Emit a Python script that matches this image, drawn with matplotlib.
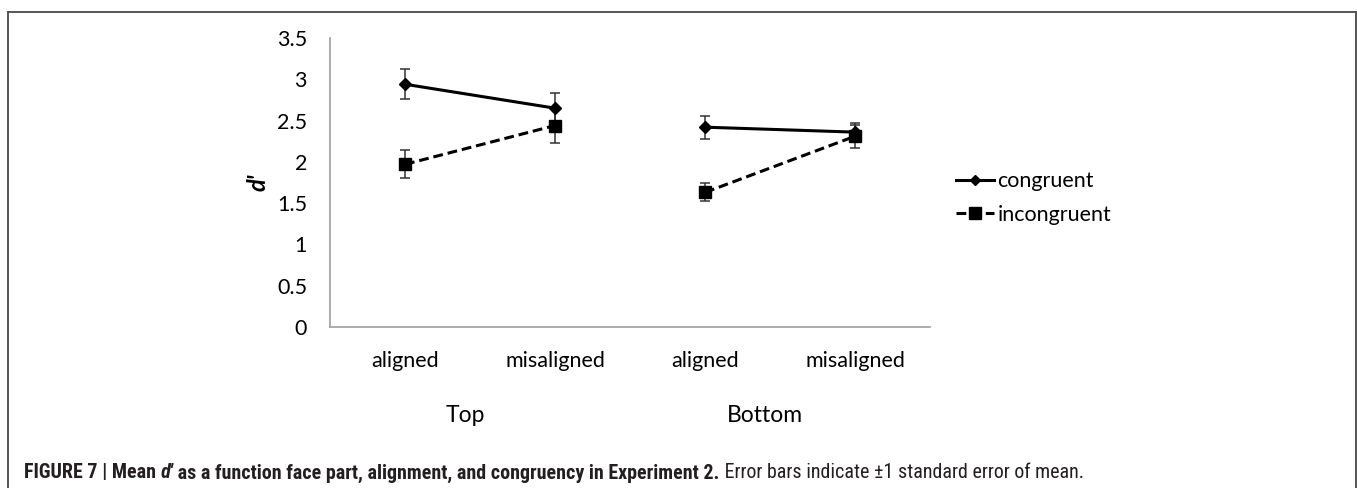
import matplotlib
matplotlib.use("Agg")
import matplotlib.pyplot as plt
from matplotlib import font_manager
from matplotlib.lines import Line2D

# ---- data ----
conditions = ["aligned", "misaligned", "aligned", "misaligned"]
groups = ["Top", "Bottom"]
congruent = [2.94, 2.65, 2.42, 2.36]
congruent_se = [0.18, 0.18, 0.14, 0.11]
incongruent = [1.97, 2.44, 1.63, 2.31]
incongruent_se = [0.17, 0.21, 0.11, 0.14]
series_names = ["congruent", "incongruent"]
yticks = [0, 0.5, 1, 1.5, 2, 2.5, 3, 3.5]


def has_font(name):
    try:
        font_manager.findfont(font_manager.FontProperties(family=name), fallback_to_default=False)
        return True
    except Exception:
        return False

chart_font = "Lato" if has_font("Lato") else "DejaVu Sans"

# choose a condensed sans face (with a static bold) for the caption
ttf = font_manager.fontManager.ttflist
def static_bold(fam):
    return any(f.name == fam and str(f.weight) in ("bold", "700") and "[" not in f.fname for f in ttf)
pref = ["Liberation Sans Narrow", "Roboto Condensed", "Archivo Narrow", "Fira Sans Condensed",
        "Barlow Condensed", "Asap Condensed"]
cap_font = None
for p in pref:
    if static_bold(p):
        cap_font = p
        break
cap_stretch = "normal"
if cap_font is None:
    cap_font = "DejaVu Sans"
    cap_stretch = "condensed"

W, H = 1357, 488
fig = plt.figure(figsize=(W / 100, H / 100), dpi=100)

def fx(px):
    return px / W

def fy(py):
    return 1 - py / H

ax = fig.add_axes([fx(330), fy(327), fx(930) - fx(330), fy(38) - fy(327)])

x = list(range(len(conditions)))
axis_gray = "#a6a6a6"

for vals, ses, ls, mk, ms in [
    (congruent, congruent_se, "-", "D", 6),
    (incongruent, incongruent_se, (0, (3.2, 1.6)), "s", 8.5),
]:
    for g in range(len(groups)):
        idx = [2 * g, 2 * g + 1]
        ax.errorbar([x[i] for i in idx], [vals[i] for i in idx],
                    yerr=[ses[i] for i in idx], color="black", linestyle=ls,
                    linewidth=2.2, marker=mk, markersize=ms,
                    ecolor="#333333", elinewidth=1.1, capsize=3.5, capthick=1.1,
                    zorder=3)

ax.set_xlim(-0.5, len(conditions) - 0.5)
ax.set_ylim(0, 3.5)
ax.set_yticks(yticks)
ax.set_yticklabels([f"{v:g}" for v in yticks], fontsize=15.5, family=chart_font)
ax.set_xticks(x)
ax.set_xticklabels(conditions, fontsize=15.5, family=chart_font)
ax.tick_params(axis="both", length=0)
ax.tick_params(axis="y", pad=16.5)
ax.tick_params(axis="x", pad=17)
for s in ["top", "right"]:
    ax.spines[s].set_visible(False)
for s in ["left", "bottom"]:
    ax.spines[s].set_color(axis_gray)
    ax.spines[s].set_linewidth(1.3)

fig.text(fx(258), fy(182), "d'", rotation=90, fontsize=17, fontstyle="italic",
         fontweight="bold", family=chart_font, ha="center", va="center")

# group labels
for g, name in enumerate(groups):
    xc = (x[2 * g] + x[2 * g + 1]) / 2
    ax.text(xc - 0.1, -0.305, name, transform=ax.get_xaxis_transform(),
            ha="center", va="center", fontsize=16.5, family=chart_font)

# legend
handles = [
    Line2D([], [], color="black", linestyle="-", linewidth=2.2, marker="D", markersize=5),
    Line2D([], [], color="black", linestyle=(0, (3.2, 1.6)), linewidth=2.2, marker="s", markersize=8),
]
fig.legend(handles, series_names, loc="center left", bbox_to_anchor=(fx(937), fy(198)),
           frameon=False, prop={"family": chart_font, "size": 15.5}, handlelength=1.75,
           handletextpad=0.15, labelspacing=0.62)

# frame
frame_color = "#555555"
fig.add_artist(Line2D([fx(8), fx(8)], [fy(12), 0], transform=fig.transFigure, color=frame_color, lw=1.4))
fig.add_artist(Line2D([fx(8), fx(1355.5)], [fy(12), fy(12)], transform=fig.transFigure, color=frame_color, lw=1.4))
fig.add_artist(Line2D([fx(1355.5), fx(1355.5)], [fy(12), 0], transform=fig.transFigure, color=frame_color, lw=1.4))

# caption
cap_color = "#231f20"
parts = [
    ("FIGURE 7 | Mean ", "bold", "normal"),
    ("d'", "bold", "italic"),
    (" as a function face part, alignment, and congruency in Experiment 2.", "bold", "normal"),
    (" Error bars indicate \u00b11 standard error of mean.", "normal", "normal"),
]
fig.canvas.draw()
renderer = fig.canvas.get_renderer()
xpos = fx(24)
for txt, wt, st in parts:
    t = fig.text(xpos, fy(473), txt, fontsize=14.4, family=cap_font, fontweight=wt,
                 fontstyle=st, fontstretch=cap_stretch, color=cap_color, va="center", ha="left")
    bb = t.get_window_extent(renderer=renderer)
    xpos += bb.width / W

fig.savefig("out.png", dpi=100, facecolor="white")
